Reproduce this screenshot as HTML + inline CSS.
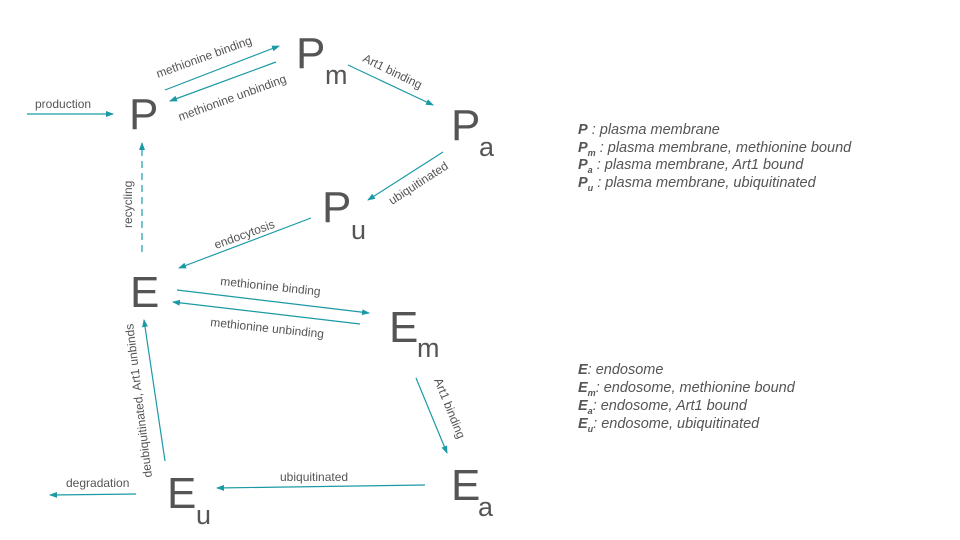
<!DOCTYPE html>
<html><head><meta charset="utf-8"><style>
html,body{margin:0;padding:0;background:#fff;}
svg{display:block;font-family:"Liberation Sans",Arial,sans-serif;}
.n{font-size:44px;fill:#555;}
.s{font-size:27px;fill:#555;}
.l{font-size:12px;fill:#555;}
.a{stroke:#1b9aa6;stroke-width:1.2;fill:none;marker-end:url(#ah);}
.g{font-size:14.5px;fill:#555;font-style:italic;}
.gb{font-weight:bold;}
.gs{font-size:9px;font-weight:bold;}
</style></head><body>
<svg width="960" height="540" viewBox="0 0 960 540">
<defs><marker id="ah" markerWidth="8" markerHeight="6" refX="7" refY="3" orient="auto" markerUnits="userSpaceOnUse"><path d="M0,0 L8,3 L0,6 z" fill="#1b9aa6"/></marker></defs>

<g><text class="n" x="129" y="129">P</text></g>
<g><text class="n" x="296" y="68">P</text><text class="s" x="325" y="84">m</text></g>
<g><text class="n" x="451" y="140">P</text><text class="s" x="479" y="156">a</text></g>
<g><text class="n" x="322" y="222">P</text><text class="s" x="351" y="239">u</text></g>
<g><text class="n" x="130" y="307">E</text></g>
<g><text class="n" x="389" y="342">E</text><text class="s" x="417" y="357">m</text></g>
<g><text class="n" x="451" y="500">E</text><text class="s" x="478" y="516">a</text></g>
<g><text class="n" x="167" y="508">E</text><text class="s" x="196" y="524">u</text></g>

<line class="a" x1="27" y1="114" x2="113" y2="114"/>
<text class="l" x="35" y="108">production</text>

<line class="a" x1="165" y1="90" x2="279" y2="46"/>
<text class="l" transform="translate(158,78) rotate(-20)">methionine binding</text>
<line class="a" x1="276" y1="62" x2="170" y2="101"/>
<text class="l" transform="translate(180,121) rotate(-20)">methionine unbinding</text>

<line class="a" x1="348" y1="65" x2="433" y2="105"/>
<text class="l" transform="translate(362,61) rotate(26)">Art1 binding</text>

<line class="a" x1="443" y1="152" x2="368" y2="200"/>
<text class="l" transform="translate(392,205) rotate(-33)">ubiquitinated</text>

<line class="a" x1="311" y1="218" x2="179" y2="268"/>
<text class="l" transform="translate(216,249) rotate(-20)">endocytosis</text>

<line class="a" x1="142" y1="252" x2="142" y2="143" stroke-dasharray="7,5"/>
<text class="l" transform="translate(132,228) rotate(-90)">recycling</text>

<line class="a" x1="177" y1="290" x2="369" y2="313"/>
<text class="l" transform="translate(220,285) rotate(6)">methionine binding</text>
<line class="a" x1="360" y1="324" x2="173" y2="302"/>
<text class="l" transform="translate(210,326) rotate(6)">methionine unbinding</text>

<line class="a" x1="416" y1="378" x2="447" y2="453"/>
<text class="l" transform="translate(434,380) rotate(68)">Art1 binding</text>

<line class="a" x1="425" y1="485" x2="217" y2="488"/>
<text class="l" x="280" y="481">ubiquitinated</text>

<line class="a" x1="165" y1="461" x2="144" y2="320"/>
<text class="l" transform="translate(152,477) rotate(-97)">deubiquitinated, Art1 unbinds</text>

<line class="a" x1="136" y1="494" x2="50" y2="495"/>
<text class="l" x="66" y="487">degradation</text>

<g>
<text class="g" x="578" y="134"><tspan class="gb">P</tspan> : plasma membrane</text>
<text class="g" x="578" y="152"><tspan class="gb">P</tspan><tspan class="gs" dy="4">m</tspan><tspan dy="-4"> : plasma membrane, methionine bound</tspan></text>
<text class="g" x="578" y="169"><tspan class="gb">P</tspan><tspan class="gs" dy="4">a</tspan><tspan dy="-4"> : plasma membrane, Art1 bound</tspan></text>
<text class="g" x="578" y="187"><tspan class="gb">P</tspan><tspan class="gs" dy="4">u</tspan><tspan dy="-4"> : plasma membrane, ubiquitinated</tspan></text>
</g>
<g>
<text class="g" x="578" y="374"><tspan class="gb">E</tspan>: endosome</text>
<text class="g" x="578" y="392"><tspan class="gb">E</tspan><tspan class="gs" dy="4">m</tspan><tspan dy="-4">: endosome, methionine bound</tspan></text>
<text class="g" x="578" y="410"><tspan class="gb">E</tspan><tspan class="gs" dy="4">a</tspan><tspan dy="-4">: endosome, Art1 bound</tspan></text>
<text class="g" x="578" y="428"><tspan class="gb">E</tspan><tspan class="gs" dy="4">u</tspan><tspan dy="-4">: endosome, ubiquitinated</tspan></text>
</g>
</svg>
</body></html>
